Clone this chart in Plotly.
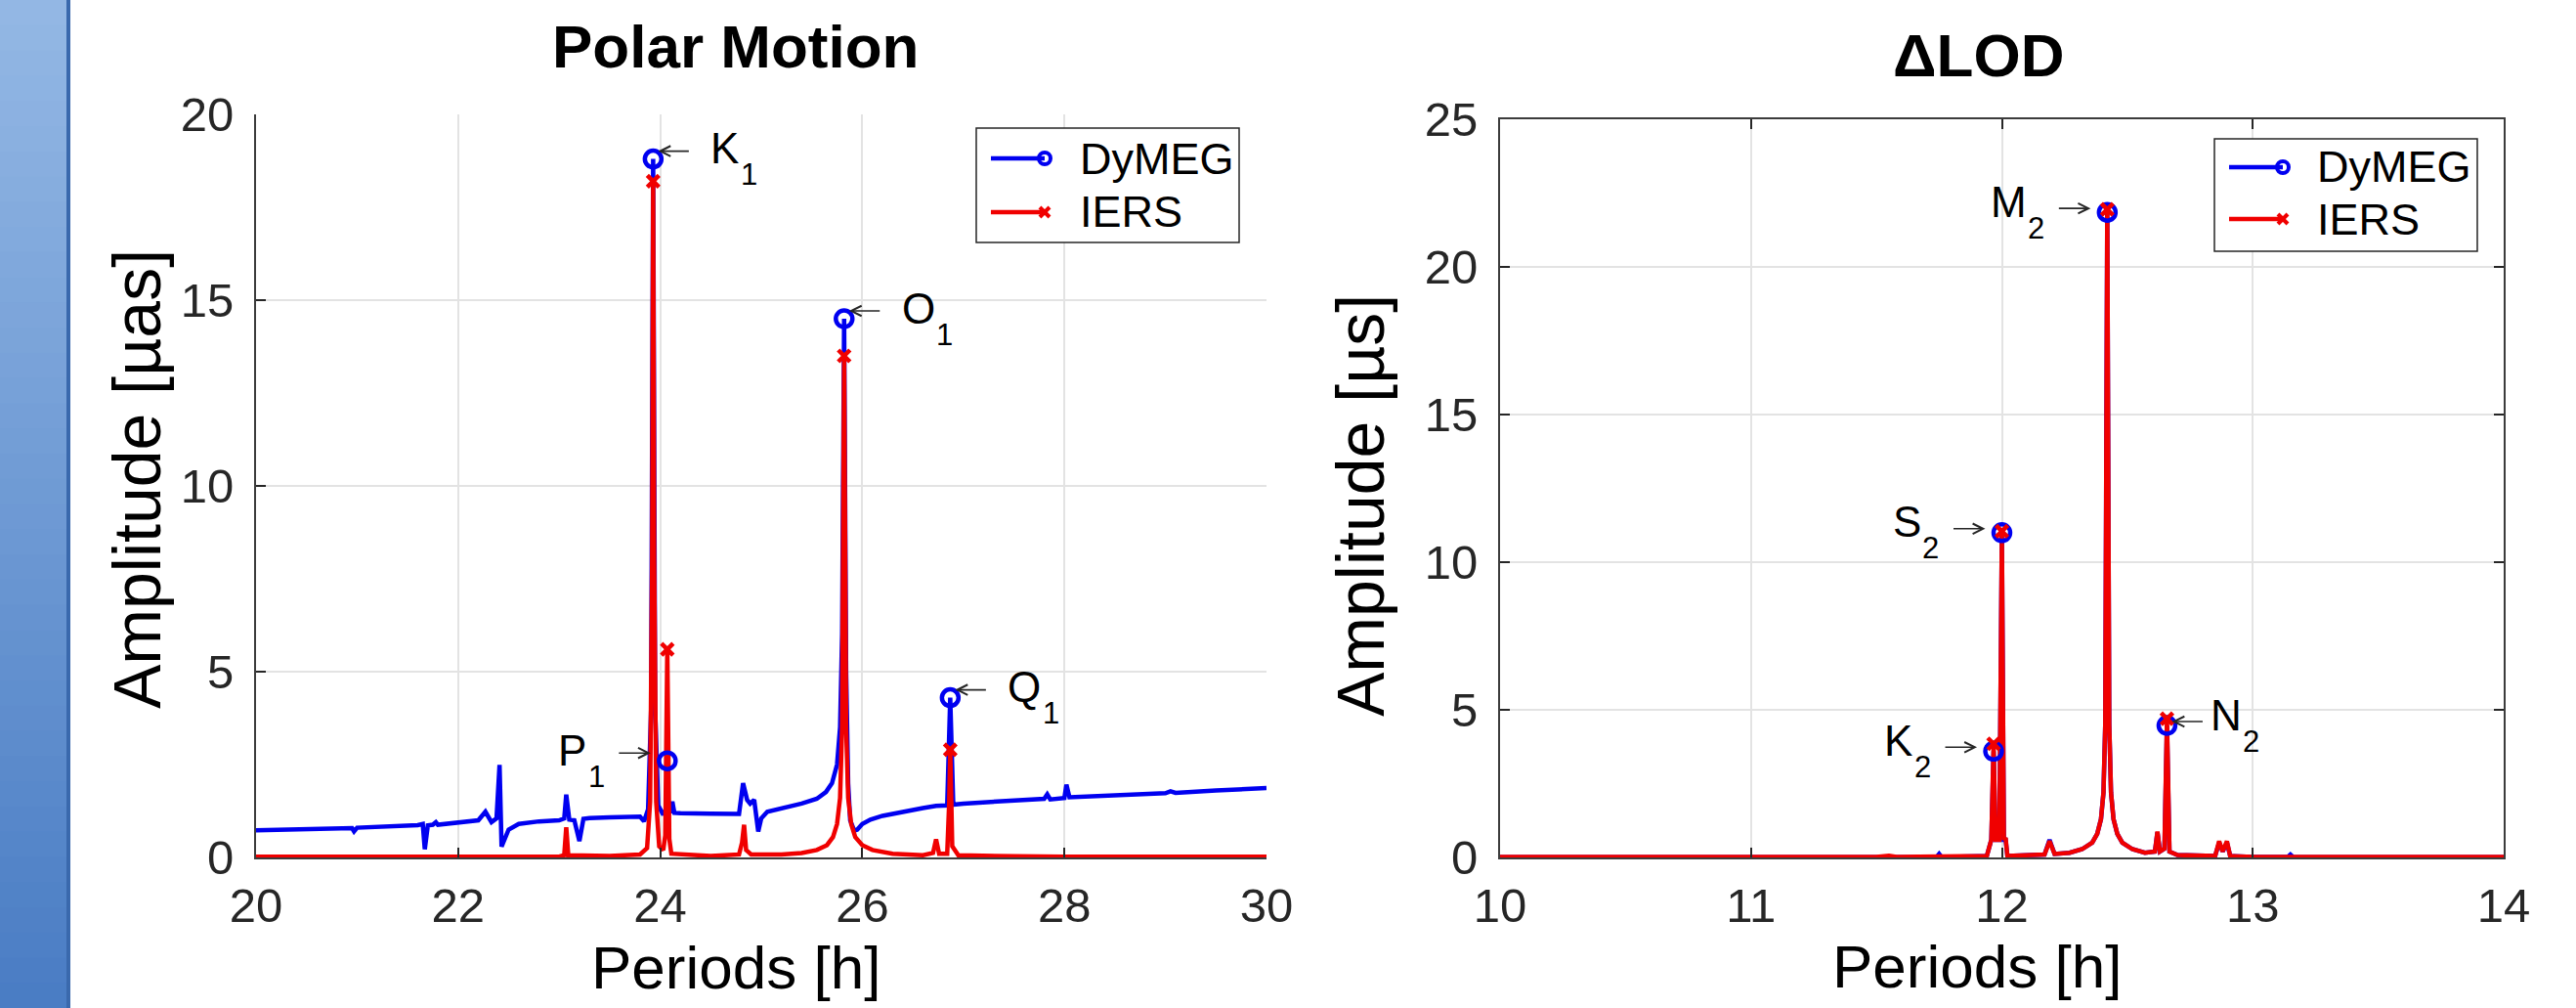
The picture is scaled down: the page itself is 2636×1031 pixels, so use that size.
import plotly.graph_objects as go

# ---------------- data ----------------
# Polar motion spectrum (periods in hours, amplitude in µas)
pm_period_dymeg = [20.00, 20.40, 20.95, 20.97, 21.00, 21.60, 21.65, 21.67, 21.70, 21.75, 21.78, 21.80,
                   22.20, 22.27, 22.33, 22.38, 22.41, 22.43, 22.50, 22.60, 22.80, 23.00, 23.05, 23.07,
                   23.10, 23.15, 23.20, 23.24, 23.30, 23.50, 23.80, 23.84, 23.88, 23.91, 23.93, 23.95,
                   23.98, 24.03, 24.06, 24.07, 24.08, 24.10, 24.12, 24.14, 24.20, 24.50, 24.78, 24.82,
                   24.86, 24.89, 24.93, 24.97, 25.00, 25.06, 25.20, 25.40, 25.55, 25.64, 25.70, 25.75,
                   25.78, 25.80, 25.82, 25.84, 25.86, 25.88, 25.92, 25.95, 26.00, 26.08, 26.20, 26.39,
                   26.60, 26.73, 26.84, 26.87, 26.90, 27.00, 27.30, 27.60, 27.80, 27.83, 27.86, 28.00,
                   28.02, 28.05, 28.30, 28.60, 29.00, 29.05, 29.10, 29.50, 30.00]
pm_amp_dymeg = [0.73, 0.76, 0.79, 0.70, 0.80, 0.87, 0.90, 0.22, 0.86, 0.88, 0.95, 0.88,
                1.00, 1.23, 0.95, 1.05, 2.49, 0.29, 0.75, 0.90, 0.97, 1.00, 1.05, 1.69,
                1.02, 1.00, 0.44, 1.04, 1.06, 1.08, 1.10, 0.97, 1.30, 4.00, 18.80, 4.00,
                1.40, 1.15, 1.30, 2.60, 1.25, 1.20, 1.50, 1.20, 1.19, 1.18, 1.17, 2.00,
                1.55, 1.45, 1.55, 0.70, 1.05, 1.23, 1.32, 1.45, 1.58, 1.76, 2.00, 2.50,
                3.50, 6.00, 14.50, 5.00, 2.00, 1.00, 0.72, 0.75, 0.90, 1.02, 1.12, 1.23,
                1.33, 1.39, 1.40, 4.30, 1.42, 1.45, 1.50, 1.55, 1.58, 1.70, 1.56, 1.60,
                1.96, 1.62, 1.65, 1.69, 1.73, 1.78, 1.74, 1.80, 1.87]

pm_period_iers = [20.00, 23.00, 23.05, 23.07, 23.09, 23.50, 23.80, 23.87, 23.90, 23.92, 23.93, 23.94,
                  23.96, 23.99, 24.03, 24.05, 24.07, 24.09, 24.11, 24.50, 24.78, 24.81, 24.83, 24.85,
                  24.90, 25.20, 25.40, 25.55, 25.65, 25.71, 25.75, 25.78, 25.80, 25.82, 25.84, 25.86,
                  25.89, 25.93, 26.00, 26.10, 26.30, 26.60, 26.70, 26.73, 26.76, 26.84, 26.86, 26.87,
                  26.89, 26.95, 27.50, 28.00, 30.00]
pm_amp_iers = [0.02, 0.02, 0.06, 0.81, 0.06, 0.04, 0.08, 0.25, 1.50, 8.00, 18.20, 8.00,
               1.50, 0.30, 0.20, 0.60, 5.60, 0.50, 0.10, 0.04, 0.08, 0.40, 0.88, 0.20,
               0.08, 0.08, 0.12, 0.20, 0.33, 0.55, 0.90, 1.60, 3.50, 13.50, 3.50, 1.60,
               0.90, 0.55, 0.33, 0.20, 0.10, 0.06, 0.12, 0.49, 0.10, 0.10, 1.50, 2.90,
               0.30, 0.06, 0.03, 0.02, 0.02]

# ΔLOD spectrum (periods in hours, amplitude in µs)
lod_period_dymeg = [10.00, 11.74, 11.75, 11.76, 11.94, 11.958, 11.967, 11.975, 11.99, 12.00, 12.008, 12.015,
                    12.022, 12.17, 12.19, 12.21, 12.27, 12.32, 12.36, 12.38, 12.395, 12.405, 12.412, 12.42,
                    12.428, 12.435, 12.445, 12.46, 12.48, 12.52, 12.57, 12.61, 12.62, 12.63, 12.648, 12.658,
                    12.668, 12.70, 12.85, 12.866, 12.88, 12.897, 12.91, 13.00, 13.14, 13.15, 13.16, 14.00]
lod_amp_dymeg = [0.01, 0.01, 0.12, 0.01, 0.05, 0.60, 3.60, 0.60, 0.60, 11.00, 0.60, 0.60,
                 0.05, 0.10, 0.60, 0.12, 0.16, 0.28, 0.50, 0.80, 1.30, 2.20, 4.50, 21.85,
                 4.50, 2.20, 1.30, 0.80, 0.50, 0.28, 0.16, 0.20, 0.85, 0.20, 0.30, 4.47,
                 0.20, 0.08, 0.05, 0.50, 0.20, 0.50, 0.05, 0.02, 0.02, 0.10, 0.02, 0.01]

lod_period_iers = [10.00, 11.50, 11.55, 11.58, 11.94, 11.958, 11.967, 11.975, 11.99, 12.00, 12.008, 12.015,
                   12.022, 12.17, 12.19, 12.21, 12.27, 12.32, 12.36, 12.38, 12.395, 12.405, 12.412, 12.42,
                   12.428, 12.435, 12.445, 12.46, 12.48, 12.52, 12.57, 12.61, 12.62, 12.63, 12.648, 12.658,
                   12.668, 12.70, 12.85, 12.866, 12.88, 12.897, 12.91, 13.00, 14.00]
lod_amp_iers = [0.02, 0.02, 0.06, 0.02, 0.05, 0.60, 3.80, 0.60, 0.60, 11.00, 0.60, 0.66,
                0.05, 0.10, 0.55, 0.12, 0.16, 0.28, 0.50, 0.80, 1.30, 2.20, 4.50, 21.90,
                4.50, 2.20, 1.30, 0.80, 0.50, 0.28, 0.16, 0.20, 0.88, 0.20, 0.30, 4.70,
                0.20, 0.08, 0.05, 0.55, 0.20, 0.55, 0.05, 0.02, 0.02]

# Tidal constituents marked on the spectra
pm_tide_name = ["K", "P", "O", "Q"]
pm_tide_sub = ["1", "1", "1", "1"]
pm_tide_side = ["right", "left", "right", "right"]
pm_tide_period = [23.93, 24.07, 25.82, 26.87]
pm_peak_dymeg = [18.8, 2.6, 14.5, 4.3]
pm_peak_iers = [18.2, 5.6, 13.5, 2.9]

lod_tide_name = ["K", "S", "M", "N"]
lod_tide_sub = ["2", "2", "2", "2"]
lod_tide_side = ["left", "left", "left", "right"]
lod_tide_period = [11.967, 12.00, 12.42, 12.658]
lod_peak_dymeg = [3.6, 11.0, 21.85, 4.47]
lod_peak_iers = [3.85, 11.05, 21.95, 4.7]

titles = ["Polar Motion", "ΔLOD"]
x_titles = ["Periods [h]", "Periods [h]"]
y_titles = ["Amplitude [µas]", "Amplitude [µs]"]
series_names = ["DyMEG", "IERS"]

# ---------------- style ----------------
W, H = 2636, 1031
FONT = "Liberation Sans, Arial, Helvetica, sans-serif"
BLUE = "#0000f0"
RED = "#f00000"
AX = "#262626"
GRID = "#e3e3e3"
ADV = {"K": 0.667, "P": 0.667, "O": 0.778, "Q": 0.778, "S": 0.667, "M": 0.833, "N": 0.722}


def fx(p):
    return p / W


def fy(p):
    return 1 - p / H


fig = go.Figure()

# spectra
fig.add_trace(go.Scatter(x=pm_period_dymeg, y=pm_amp_dymeg, mode="lines", line=dict(color=BLUE, width=4.5),
                         xaxis="x", yaxis="y", name=series_names[0]))
fig.add_trace(go.Scatter(x=pm_period_iers, y=pm_amp_iers, mode="lines", line=dict(color=RED, width=4.5),
                         xaxis="x", yaxis="y", name=series_names[1]))
fig.add_trace(go.Scatter(x=lod_period_dymeg, y=lod_amp_dymeg, mode="lines", line=dict(color=BLUE, width=4.5),
                         xaxis="x2", yaxis="y2", name=series_names[0]))
fig.add_trace(go.Scatter(x=lod_period_iers, y=lod_amp_iers, mode="lines", line=dict(color=RED, width=4.5),
                         xaxis="x2", yaxis="y2", name=series_names[1]))

# peak markers
for xs, yb, yr, xa, ya in [(pm_tide_period, pm_peak_dymeg, pm_peak_iers, "x", "y"),
                           (lod_tide_period, lod_peak_dymeg, lod_peak_iers, "x2", "y2")]:
    fig.add_trace(go.Scatter(x=xs, y=yb, mode="markers", xaxis=xa, yaxis=ya,
                             marker=dict(symbol="circle-open", size=17, color=BLUE, line=dict(width=4.5, color=BLUE))))
    fig.add_trace(go.Scatter(x=xs, y=yr, mode="markers", xaxis=xa, yaxis=ya,
                             marker=dict(symbol="x-thin-open", size=12, color=RED, line=dict(width=4.5, color=RED))))

annotations = []


def peak_labels(periods, peaks, names, subs, sides, xa, ya, arrow_dy, near_right=False):
    for xv, yv, nm, sb, sd in zip(periods, peaks, names, subs, sides):
        if sd == "right":
            tip, tail = 5, 38
            left = 43 if (near_right and nm == "N") else 57
        else:
            tip, tail = -17, -51
            sub_left = -66 - 0.556 * 31
            left = sub_left - ADV[nm] * 44 - 1
        sub_x = left + ADV[nm] * 44 + 1
        annotations.append(dict(x=xv, y=yv, xref=xa, yref=ya, text="", showarrow=True,
                                xshift=tip, yshift=arrow_dy, ax=tail - tip, ay=0, axref="pixel", ayref="pixel",
                                arrowhead=5, arrowsize=1.3, arrowwidth=1.6, arrowcolor=AX, standoff=0))
        annotations.append(dict(x=xv, y=yv, xref=xa, yref=ya, text=nm, showarrow=False,
                                xanchor="left", yanchor="middle", xshift=left, yshift=11,
                                font=dict(family=FONT, size=44, color="#000000")))
        annotations.append(dict(x=xv, y=yv, xref=xa, yref=ya, text=sb, showarrow=False,
                                xanchor="left", yanchor="middle", xshift=sub_x, yshift=-16,
                                font=dict(family=FONT, size=31, color="#000000")))


peak_labels(pm_tide_period, pm_peak_dymeg, pm_tide_name, pm_tide_sub, pm_tide_side, "x", "y", 8)
peak_labels(lod_tide_period, lod_peak_dymeg, lod_tide_name, lod_tide_sub, lod_tide_side, "x2", "y2", 4, True)

# titles and axis titles
for txt, cx, cy in [(titles[0], 752, 47), (titles[1], 2024, 56)]:
    annotations.append(dict(x=fx(cx), y=fy(cy), xref="paper", yref="paper", text="<b>%s</b>" % txt,
                            showarrow=False, xanchor="center", yanchor="middle",
                            font=dict(family=FONT, size=62, color="#000000")))
for txt, cx, cy in [(x_titles[0], 753, 989), (x_titles[1], 2023, 988)]:
    annotations.append(dict(x=fx(cx), y=fy(cy), xref="paper", yref="paper", text=txt,
                            showarrow=False, xanchor="center", yanchor="middle",
                            font=dict(family=FONT, size=62, color="#000000")))
for txt, cx, cy in [(y_titles[0], 140, 490), (y_titles[1], 1392, 517)]:
    annotations.append(dict(x=fx(cx), y=fy(cy), xref="paper", yref="paper", text=txt, textangle=-90,
                            showarrow=False, xanchor="center", yanchor="middle",
                            font=dict(family=FONT, size=68, color="#000000")))

shapes = []
# slide strip on the left (vertical gradient)
n = 40
top = (147, 183, 228)
bot = (74, 125, 196)
for i in range(n):
    t = i / (n - 1)
    c = tuple(int(round(top[k] + (bot[k] - top[k]) * t)) for k in range(3))
    shapes.append(dict(type="rect", xref="paper", yref="paper", x0=0, x1=fx(68),
                       y0=fy((i + 1) * H / n + 1), y1=fy(i * H / n), line=dict(width=0),
                       fillcolor="rgb(%d,%d,%d)" % c, layer="below"))
shapes.append(dict(type="rect", xref="paper", yref="paper", x0=fx(68), x1=fx(72), y0=0, y1=1,
                   line=dict(width=0), fillcolor="#3a69ad", layer="below"))

# legends (drawn manually: line with marker at its right end)
for (bx0, by0, bx1, by1, lx0, lx1, ty0, ty1, tx) in [(999, 131, 1268, 248, 1014, 1069, 162, 217, 1103),
                                                       (2266, 142, 2535, 257, 2281, 2336, 171, 224, 2369)]:
    shapes.append(dict(type="rect", xref="paper", yref="paper", x0=fx(bx0), x1=fx(bx1), y0=fy(by1), y1=fy(by0),
                       line=dict(color=AX, width=1.5), fillcolor="white", layer="above"))
    shapes.append(dict(type="line", xref="paper", yref="paper", x0=fx(lx0), x1=fx(lx1), y0=fy(ty0), y1=fy(ty0),
                       line=dict(color=BLUE, width=4.5), layer="above"))
    shapes.append(dict(type="circle", xref="paper", yref="paper", x0=fx(lx1 - 6), x1=fx(lx1 + 6),
                       y0=fy(ty0 + 6), y1=fy(ty0 - 6), line=dict(color=BLUE, width=4), layer="above"))
    shapes.append(dict(type="line", xref="paper", yref="paper", x0=fx(lx0), x1=fx(lx1), y0=fy(ty1), y1=fy(ty1),
                       line=dict(color=RED, width=4.5), layer="above"))
    for dx in (-1, 1):
        shapes.append(dict(type="line", xref="paper", yref="paper", x0=fx(lx1 - 5), x1=fx(lx1 + 5),
                           y0=fy(ty1 - 5 * dx), y1=fy(ty1 + 5 * dx), line=dict(color=RED, width=4), layer="above"))
    for nm, ty in zip(series_names, (ty0, ty1)):
        annotations.append(dict(x=fx(tx), y=fy(ty), xref="paper", yref="paper", text=nm, showarrow=False,
                                xanchor="left", yanchor="middle", font=dict(family=FONT, size=45, color="#000000")))

axis_common = dict(showgrid=True, gridcolor=GRID, gridwidth=1.5, zeroline=False, showline=True,
                   linecolor="#3c3c3c", linewidth=2, ticks="inside", ticklen=10, tickwidth=2, tickcolor=AX,
                   automargin=False, tickfont=dict(family=FONT, size=49, color=AX))

fig.update_layout(
    template="none",
    width=W, height=H, margin=dict(l=0, r=0, t=0, b=0, pad=0, autoexpand=False), showlegend=False,
    paper_bgcolor="white", plot_bgcolor="white",
    xaxis=dict(domain=[fx(262), fx(1296)], range=[20, 30], tick0=20, dtick=2, anchor="y",
               ticklabelstandoff=5, **axis_common),
    yaxis=dict(domain=[fy(877), fy(117)], range=[0, 20], tick0=0, dtick=5, anchor="x",
               ticklabelstandoff=11, **axis_common),
    xaxis2=dict(domain=[fx(1535), fx(2562)], range=[10, 14], tick0=10, dtick=1, anchor="y2", mirror="ticks",
                ticklabelstandoff=5, **axis_common),
    yaxis2=dict(domain=[fy(877), fy(122)], range=[0, 25], tick0=0, dtick=5, anchor="x2", mirror="ticks",
                ticklabelstandoff=11, **axis_common),
    annotations=annotations, shapes=shapes,
)

fig.write_html("out.html", config={"displayModeBar": False},
               post_script="document.body.style.margin='0';document.body.style.overflow='hidden';")
